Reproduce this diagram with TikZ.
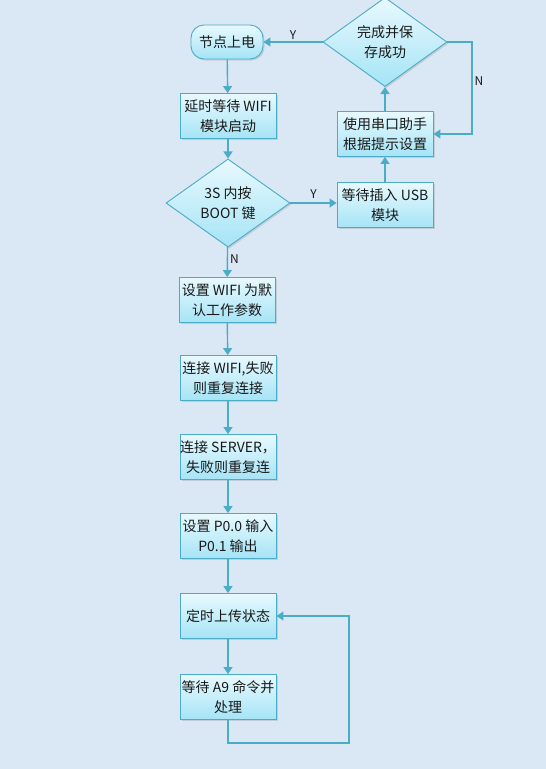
\documentclass[tikz,border=0pt]{standalone}
\usepackage{fontspec}
\setmainfont{Noto Sans CJK SC}
\usepackage{tikz}
\usetikzlibrary{shapes.geometric,arrows.meta,positioning,shadows}

\definecolor{bgblue}{RGB}{218,231,245}
\definecolor{edgeblue}{RGB}{75,172,198}
\definecolor{boxtop}{RGB}{232,249,254}
\definecolor{boxbot}{RGB}{165,228,246}
\definecolor{txt}{RGB}{25,25,25}

\begin{document}
\begin{tikzpicture}[
  x=1pt, y=-1pt,
  box/.style={draw=edgeblue, top color=boxtop, bottom color=boxbot, line width=0.9pt,
    font=\fontsize{14}{20}\selectfont, text=txt, align=center, inner sep=0pt,
    minimum width=96pt, minimum height=45pt,
    drop shadow={shadow xshift=1.5pt, shadow yshift=-1.5pt, opacity=0.25}},
  startbox/.style={box, rounded corners=13pt, minimum width=72pt, minimum height=34pt},
  decide/.style={box, diamond, minimum width=124pt, minimum height=79pt},
  arr/.style={-{Triangle[length=7pt,width=9pt]}, draw=edgeblue, line width=1.4pt},
  lbl/.style={font=\fontsize{12}{14}\selectfont, text=txt, inner sep=2pt}
]
\useasboundingbox (0,0) rectangle (546,769);
\fill[bgblue] (0,0) rectangle (546,769);

% Left column
\node[startbox] (power)   at (227, 42)  {节点上电};
\node[box]      (delay)   at (228, 116) {延时等待 WIFI\\模块启动};
\node[decide]   (boot)    at (228, 203) {3S 内按\\BOOT 键};
\node[box]      (setwifi) at (227, 300) {设置 WIFI 为默\\认工作参数};
\node[box]      (wifi)    at (228, 378) {连接 WIFI,失败\\则重复连接};
\node[box]      (server)  at (228, 457) {连接 SERVER，\\失败则重复连};
\node[box]      (pio)     at (228, 536) {设置 P0.0 输入\\P0.1 输出};
\node[box]      (upload)  at (228, 616) {定时上传状态};
\node[box]      (wait)    at (228, 697) {等待 A9 命令并\\处理};

% Right column
\node[decide]   (save)    at (385, 42)  {完成并保\\存成功};
\node[box]      (serial)  at (385, 134) {使用串口助手\\根据提示设置};
\node[box]      (usb)     at (385, 205) {等待插入 USB\\模块};

\coordinate (saveR) at (472, 42);
\coordinate (loopR) at (349, 743);

% Main flow
\draw[arr] (power) -- (delay);
\draw[arr] (delay) -- (boot);
\draw[arr] (boot) -- (setwifi) node[lbl, pos=0.4, right] {N};
\draw[arr] (setwifi) -- (wifi);
\draw[arr] (wifi) -- (server);
\draw[arr] (server) -- (pio);
\draw[arr] (pio) -- (upload);
\draw[arr] (upload) -- (wait);
\draw[arr] (wait.south) |- (loopR) |- (upload.east);

% Setup branch
\draw[arr] (boot.east) -- (usb.west |- boot.east) node[lbl, midway, above, yshift=2pt] {Y};
\draw[arr] (usb) -- (serial);
\draw[arr] (serial) -- (save);
\draw[arr] (save.west) -- (power.east) node[lbl, midway, above] {Y};
\draw[arr] (save.east) -- (saveR) |- (serial.east) node[lbl, pos=0.21, right] {N};
\end{tikzpicture}
\end{document}
